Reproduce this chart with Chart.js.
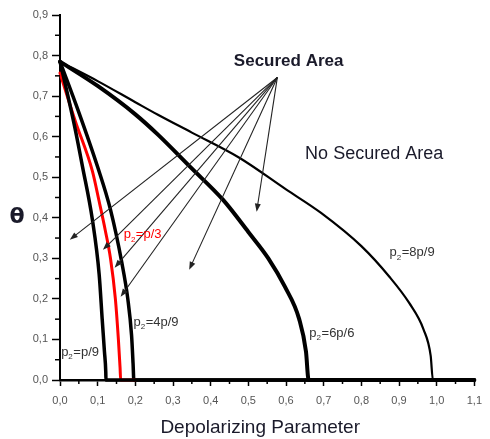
<!DOCTYPE html>
<html><head><meta charset="utf-8">
<script src="https://cdn.jsdelivr.net/npm/chart.js@4/dist/chart.umd.min.js"></script>
<style>html,body{margin:0;padding:0;background:#fff}#wrap{width:490px;height:439px}</style>
</head><body><div id="wrap"><canvas id="c"></canvas></div>
<script>
// ---- data ----
const xTitle = 'Depolarizing Parameter';
const yTitle = 'θ';
const seriesLabels = ['p₂=p/9', 'p₂=p/3', 'p₂=4p/9', 'p₂=6p/6', 'p₂=8p/9'];

const p9D = [0, 0.02, 0.04, 0.06, 0.086, 0.104, 0.112, 0.118, 0.1215, 0.122, 1.1];
const p9T = [0.785, 0.705, 0.62, 0.525, 0.395, 0.26, 0.15, 0.07, 0.02, 0, 0];

const p3D = [0, 0.04, 0.086, 0.104, 0.12, 0.134, 0.147, 0.155, 0.1595, 0.161, 0.2];
const p3T = [0.757, 0.64, 0.515, 0.44, 0.37, 0.30, 0.20, 0.10, 0.03, 0, 0];

const p4D = [0, 0.05, 0.1, 0.134, 0.164, 0.18, 0.19, 0.194, 0.196, 1.1];
const p4T = [0.785, 0.66, 0.525, 0.42, 0.29, 0.20, 0.11, 0.04, 0, 0];

const p6D = [0, 0.1, 0.2, 0.26, 0.345, 0.433, 0.5, 0.553, 0.597, 0.635, 0.653, 0.66, 1.1];
const p6T = [0.785, 0.725, 0.655, 0.605, 0.526, 0.444, 0.365, 0.30, 0.23, 0.15, 0.07, 0, 0];

const p8D = [0, 0.1, 0.2, 0.26, 0.35, 0.476, 0.6, 0.693, 0.8, 0.875, 0.927, 0.965, 0.984, 0.99, 1.1];
const p8T = [0.785, 0.737, 0.685, 0.654, 0.61, 0.548, 0.47, 0.412, 0.33, 0.254, 0.19, 0.125, 0.06, 0, 0];

// curve label anchors (left edge, middle) in data units
const labelD = [0.003, 0.169, 0.195, 0.662, 0.875];
const labelT = [0.069, 0.358, 0.143, 0.116, 0.314];

// annotation arrows, from the "Secured Area" note
const arrowFromD = 0.577, arrowFromT = 0.746;
const arrowToD = [0.026, 0.114, 0.145, 0.161, 0.343, 0.522];
const arrowToT = [0.346, 0.321, 0.277, 0.205, 0.272, 0.415];

const notes = ['Secured Area', 'No Secured Area'];
const noteD = [0.607, 0.834];
const noteT = [0.785, 0.556];

const xTicks = [0, 0.1, 0.2, 0.3, 0.4, 0.5, 0.6, 0.7, 0.8, 0.9, 1.0, 1.1];
const yTicks = [0, 0.1, 0.2, 0.3, 0.4, 0.5, 0.6, 0.7, 0.8, 0.9];

// ---- build ----
function pts(D, T) { return D.map((d, i) => ({x: d, y: T[i]})); }
const colors = ['#000', '#f00', '#000', '#000', '#000'];
const widths = [3.5, 3, 3.5, 4, 2.2];
const allD = [p9D, p3D, p4D, p6D, p8D];
const allT = [p9T, p3T, p4T, p6T, p8T];

const datasets = allD.map((D, i) => ({
  label: seriesLabels[i],
  data: pts(D, allT[i]),
  borderColor: colors[i],
  backgroundColor: colors[i],
  borderWidth: widths[i],
  pointRadius: 0,
  showLine: true,
  cubicInterpolationMode: 'monotone',
  clip: false,
  borderJoinStyle: 'round',
  borderCapStyle: 'round'
}));

const fmt = v => (Math.round(v * 10) / 10).toFixed(1).replace('.', ',');
const FONT = '"Liberation Sans", Arial, sans-serif';

const overlay = {
  id: 'overlay',
  afterDatasetsDraw(chart) {
    const ctx = chart.ctx, xs = chart.scales.x, ys = chart.scales.y, ca = chart.chartArea;
    ctx.save();
    // minor ticks
    ctx.strokeStyle = '#000'; ctx.lineWidth = 1.5;
    for (let i = 0; i < xTicks.length - 1; i++) {
      const px = xs.getPixelForValue((xTicks[i] + xTicks[i + 1]) / 2);
      ctx.beginPath(); ctx.moveTo(px, ca.bottom); ctx.lineTo(px, ca.bottom + 4); ctx.stroke();
    }
    for (let i = 0; i < yTicks.length - 1; i++) {
      const py = ys.getPixelForValue((yTicks[i] + yTicks[i + 1]) / 2);
      ctx.beginPath(); ctx.moveTo(ca.left, py); ctx.lineTo(ca.left - 5, py); ctx.stroke();
    }
    // arrows
    const fx = xs.getPixelForValue(arrowFromD), fy = ys.getPixelForValue(arrowFromT);
    ctx.strokeStyle = '#222'; ctx.fillStyle = '#222'; ctx.lineWidth = 1.1;
    arrowToD.forEach((d, i) => {
      const tx = xs.getPixelForValue(d), ty = ys.getPixelForValue(arrowToT[i]);
      const ang = Math.atan2(ty - fy, tx - fx);
      ctx.beginPath(); ctx.moveTo(fx, fy); ctx.lineTo(tx - 5 * Math.cos(ang), ty - 5 * Math.sin(ang)); ctx.stroke();
      const L = 8, W = 3;
      ctx.beginPath();
      ctx.moveTo(tx, ty);
      ctx.lineTo(tx - L * Math.cos(ang) + W * Math.sin(ang), ty - L * Math.sin(ang) - W * Math.cos(ang));
      ctx.lineTo(tx - L * Math.cos(ang) - W * Math.sin(ang), ty - L * Math.sin(ang) + W * Math.cos(ang));
      ctx.closePath(); ctx.fill();
    });
    // notes
    ctx.fillStyle = '#1a1a2a'; ctx.textAlign = 'center'; ctx.textBaseline = 'middle';
    ctx.font = 'bold 17px ' + FONT;
    ctx.fillText(notes[0], xs.getPixelForValue(noteD[0]), ys.getPixelForValue(noteT[0]));
    ctx.font = '18px ' + FONT;
    ctx.fillText(notes[1], xs.getPixelForValue(noteD[1]), ys.getPixelForValue(noteT[1]));
    // curve labels with subscript
    ctx.textAlign = 'left';
    seriesLabels.forEach((lab, i) => {
      let x = xs.getPixelForValue(labelD[i]); const y = ys.getPixelForValue(labelT[i]);
      ctx.fillStyle = i === 1 ? '#f00' : '#333';
      const parts = lab.split('₂');
      ctx.font = '13px ' + FONT;
      ctx.fillText(parts[0], x, y); x += ctx.measureText(parts[0]).width;
      ctx.font = '8px ' + FONT;
      ctx.fillText('2', x, y + 5); x += ctx.measureText('2').width + 0.5;
      ctx.font = '13px ' + FONT;
      ctx.fillText(parts[1], x, y);
    });
    // axis titles
    ctx.fillStyle = '#1a1a2a';
    ctx.font = 'bold 22px "DejaVu Sans", sans-serif'; ctx.textAlign = 'center';
    ctx.fillText(yTitle, 17, ys.getPixelForValue(0.4));
    ctx.font = '19px ' + FONT;
    ctx.fillText(xTitle, (ca.left + ca.right) / 2 - 7, ca.bottom + 48);
    ctx.restore();
  }
};

new Chart(document.getElementById('c'), {
  type: 'scatter',
  data: {datasets},
  options: {
    responsive: true, maintainAspectRatio: false, animation: false,
    layout: {padding: {left: 0, top: 15, right: 5, bottom: 0}},
    plugins: {legend: {display: false}, tooltip: {enabled: false}},
    scales: {
      x: {
        type: 'linear', min: 0, max: 1.1,
        afterBuildTicks: s => { s.ticks = xTicks.map(v => ({value: v})); },
        afterFit: s => { s.height = 59; },
        grid: {drawOnChartArea: false, drawTicks: true, tickLength: 6, tickColor: '#000', tickWidth: 1.5},
        border: {display: true, color: '#000', width: 2.5},
        ticks: {callback: v => fmt(v), color: '#555', padding: 8, maxRotation: 0, autoSkip: false,
                font: {size: 11, family: FONT}}
      },
      y: {
        type: 'linear', min: 0, max: 0.9,
        afterBuildTicks: s => { s.ticks = yTicks.map(v => ({value: v})); },
        afterFit: s => { s.width = 60; },
        grid: {drawOnChartArea: false, drawTicks: true, tickLength: 8, tickColor: '#000', tickWidth: 1.5},
        border: {display: true, color: '#000', width: 2},
        ticks: {callback: v => fmt(v), color: '#555', padding: 4, autoSkip: false,
                font: {size: 11, family: FONT}}
      }
    }
  },
  plugins: [overlay]
});
</script></body></html>
